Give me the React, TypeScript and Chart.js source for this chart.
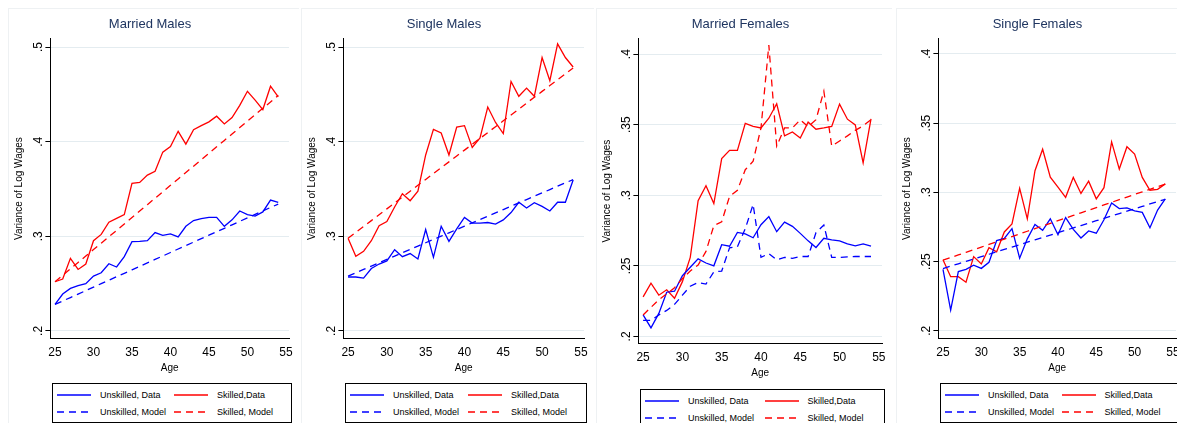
import { useEffect, useRef } from "react"
import { Chart, registerables } from "chart.js"

Chart.register(...registerables)

const ages = [25, 26, 27, 28, 29, 30, 31, 32, 33, 34, 35, 36, 37, 38, 39, 40, 41, 42, 43, 44, 45, 46, 47, 48, 49, 50, 51, 52, 53, 54]
const xTicks = [25, 30, 35, 40, 45, 50, 55]

const mmUnskData = [.228, .239, .245, .248, .250, .258, .2615, .271, .2676, .2785, .2944, .2947, .2954, .304, .301, .3025, .2994, .3106, .3167, .3187, .320, .320, .3106, .3174, .3268, .323, .3214, .3258, .3383, .336]
const mmUnskModel = [.228, .2317, .2353, .239, .2426, .2463, .25, .2536, .2573, .2609, .2646, .2683, .2719, .2756, .2792, .2829, .2866, .2902, .2939, .2975, .3012, .3049, .3085, .3122, .3158, .3195, .3232, .3268, .3305, .334]
const mmSkData = [.252, .2548, .2768, .265, .2707, .2954, .302, .315, .319, .323, .356, .357, .3647, .3688, .389, .395, .411, .3975, .4127, .417, .421, .427, .4188, .4256, .4384, .4533, .444, .434, .4587, .4475]
const mmSkModel = [.252, .2588, .2656, .2724, .2792, .286, .2927, .2995, .3063, .3131, .3199, .3267, .3335, .3403, .3471, .3539, .3606, .3674, .3742, .381, .3878, .3946, .4014, .4082, .415, .4218, .4285, .4353, .4421, .449]

const smUnskData = [.257, .257, .2558, .266, .2707, .274, .2859, .2785, .2818, .276, .3072, .2778, .3106, .2947, .3079, .320, .314, .314, .3146, .313, .3174, .3251, .336, .330, .3356, .3316, .3268, .336, .336, .3596]
const smUnskModel = [.258, .2615, .265, .2686, .2721, .2756, .2791, .2826, .2861, .2897, .2932, .2967, .3002, .3037, .3072, .3108, .3143, .3178, .3213, .3248, .3283, .3319, .3354, .3389, .3424, .3459, .3494, .353, .3565, .36]
const smSkData = [.298, .279, .2842, .2954, .3113, .3157, .331, .345, .3376, .3478, .386, .413, .4093, .386, .4155, .417, .394, .404, .4367, .4204, .4086, .4637, .448, .4566, .448, .489, .4645, .5034, .489, .479]
const smSkModel = [.298, .3042, .3104, .3166, .3228, .329, .3352, .3414, .3477, .3539, .3601, .3663, .3725, .3787, .3849, .3911, .3973, .4035, .4097, .4159, .4221, .4283, .4345, .4408, .447, .4532, .4594, .4656, .4718, .478]

const mfUnskData = [.2152, .206, .2163, .2313, .232, .243, .249, .2549, .252, .250, .265, .2639, .2737, .2727, .2699, .2791, .2849, .2742, .281, .278, .273, .2677, .263, .2695, .2684, .2677, .2656, .2641, .2656, .2639]
const mfUnskModel = [.2114, .2114, .2152, .2184, .2227, .2292, .2356, .2382, .2371, .2457, .2463, .2628, .2635, .2763, .2935, .256, .2587, .2542, .256, .2553, .2566, .2566, .2735, .2789, .256, .256, .2564, .2566, .2566, .2566]
const mfSkData = [.228, .2377, .2292, .233, .227, .2388, .256, .2962, .3068, .2941, .326, .3318, .3318, .3509, .3488, .3477, .3546, .3648, .3421, .3449, .3406, .3518, .3468, .3477, .3488, .3646, .3539, .3498, .323, .3541]
const mfSkModel = [.2152, .2206, .226, .2302, .2345, .241, .2463, .2506, .2602, .2785, .2812, .2992, .3035, .3181, .3241, .3477, .4064, .3348, .3477, .3477, .3535, .3486, .3535, .3738, .3348, .3385, .3421, .346, .3492, .3535]

const sfUnskData = [.2444, .215, .2428, .2444, .2474, .2451, .2495, .2652, .2668, .2738, .2525, .2664, .2768, .2726, .2809, .2694, .2818, .2733, .267, .2721, .2705, .2802, .2923, .2883, .2888, .2867, .2855, .2744, .2872, .2953]
const sfUnskModel = [.245, .2467, .2484, .2502, .2519, .2536, .2553, .2571, .2588, .2605, .2622, .264, .2657, .2674, .2691, .2709, .2726, .2743, .276, .2778, .2795, .2812, .2829, .2847, .2864, .2881, .2898, .2916, .2933, .295]
const sfSkData = [.2513, .2391, .2391, .2351, .2536, .2483, .2601, .2571, .2714, .2772, .3029, .2809, .3156, .3311, .311, .3038, .2964, .3108, .2992, .308, .2953, .3034, .3364, .3168, .3329, .3276, .3108, .3015, .3022, .3061]
const sfSkModel = [.251, .2529, .2548, .2567, .2586, .2605, .2624, .2643, .2662, .2681, .27, .2719, .2738, .2757, .2776, .2795, .2814, .2833, .2852, .2871, .289, .2909, .2928, .2947, .2966, .2985, .3003, .3022, .3041, .306]

const FONT = "'Liberation Sans', Arial, sans-serif"
const BLUE = "#0000ff"
const RED = "#ff0000"
const DASH = [7, 5]

type PanelProps = {
  title: string
  left: number
  width: number
  chartH: number
  legendTop: number
  yMin: number
  yMax: number
  yTicks: number[]
  unskData: number[]
  unskModel: number[]
  skData: number[]
  skModel: number[]
}

function fmt(v: number) {
  return String(v).replace(/^0/, "")
}

// y tick labels read bottom-to-top, like Stata
const rotatedYLabels = {
  id: "rotatedYLabels",
  afterDraw(chart: any) {
    const y = chart.scales.y
    const c = chart.ctx
    c.save()
    c.fillStyle = "#000"
    c.font = `12px ${FONT}`
    c.textAlign = "center"
    c.textBaseline = "bottom"
    for (const t of y.ticks) {
      const py = y.getPixelForValue(t.value)
      c.save()
      c.translate(y.right - 6, py)
      c.rotate(-Math.PI / 2)
      c.fillText(fmt(t.value), 0, 0)
      c.restore()
    }
    c.restore()
  },
}

function Panel(p: PanelProps) {
  const ref = useRef<HTMLCanvasElement>(null)
  const inst = useRef<Chart | null>(null)

  useEffect(() => {
    if (!ref.current) return
    const ctx = ref.current.getContext("2d")
    if (!ctx) return
    if (inst.current) inst.current.destroy()
    const ds = (label: string, data: number[], color: string, dashed: boolean) => ({
      label,
      data: ages.map((a, i) => ({ x: a, y: data[i] })),
      borderColor: color,
      borderWidth: 1.3,
      borderDash: dashed ? DASH : [],
      pointRadius: 0,
      tension: 0,
      fill: false,
    })
    inst.current = new Chart(ctx, {
      type: "line",
      data: {
        datasets: [
          ds("Unskilled, Model", p.unskModel, BLUE, true),
          ds("Skilled, Model", p.skModel, RED, true),
          ds("Unskilled, Data", p.unskData, BLUE, false),
          ds("Skilled,Data", p.skData, RED, false),
        ],
      },
      options: {
        animation: false,
        responsive: false,
        layout: { padding: { top: 4, right: 10, left: 2, bottom: 0 } },
        plugins: {
          legend: { display: false },
          tooltip: { enabled: false },
          title: {
            display: true,
            text: p.title,
            color: "#1f3560",
            font: { family: FONT, size: 13, weight: "normal" },
            padding: { top: 4, bottom: 6 },
          },
        },
        scales: {
          x: {
            type: "linear",
            min: 24.4,
            max: 55.4,
            afterBuildTicks: (axis: any) => {
              axis.ticks = xTicks.map((v) => ({ value: v }))
            },
            grid: { display: false, drawTicks: true, tickLength: 5, tickColor: "#000" },
            border: { color: "#000", width: 1 },
            ticks: { color: "#000", font: { family: FONT, size: 12 }, padding: 2, maxRotation: 0 },
            title: { display: true, text: "Age", color: "#000", font: { family: FONT, size: 10 }, padding: 0 },
          },
          y: {
            min: p.yMin,
            max: p.yMax,
            afterBuildTicks: (axis: any) => {
              axis.ticks = p.yTicks.map((v) => ({ value: v }))
            },
            grid: { color: "#e4ecf0", drawTicks: true, tickLength: 5, tickColor: "#000" },
            border: { color: "#000", width: 1 },
            ticks: {
              color: "rgba(0,0,0,0)",
              font: { family: FONT, size: 12 },
              minRotation: 90,
              maxRotation: 90,
              padding: 2,
              callback: (v: any) => fmt(Number(v)),
            },
            title: { display: true, text: "Variance of Log Wages", color: "#000", font: { family: FONT, size: 10 }, padding: 2 },
          },
        },
      },
      plugins: [rotatedYLabels],
    } as any)
    return () => {
      if (inst.current) inst.current.destroy()
      inst.current = null
    }
  }, [])

  const item = (color: string, dashed: boolean, text: string) => (
    <div style={{ display: "flex", alignItems: "center", height: 17, whiteSpace: "nowrap" }}>
      <svg width={34} height={4} style={{ marginRight: 9, flex: "none" }}>
        <line x1={0} y1={2} x2={34} y2={2} stroke={color} strokeWidth={1.4} strokeDasharray={dashed ? "7 5" : undefined} />
      </svg>
      <span>{text}</span>
    </div>
  )

  return (
    <div style={{ position: "absolute", left: p.left, top: 8, width: p.width, height: 423, background: "#fff", borderTop: "1px solid #eef1f3", borderLeft: "1px solid #eef1f3", overflow: "hidden" }}>
      <canvas ref={ref} width={p.width} height={p.chartH} />
      <div style={{ position: "absolute", left: 43, top: p.legendTop, width: p.width - 50, border: "1px solid #000", padding: "2px 4px", boxSizing: "border-box", display: "grid", gridTemplateColumns: "1fr 1fr", columnGap: 4, fontFamily: FONT, fontSize: 9, color: "#000" }}>
        {item(BLUE, false, "Unskilled, Data")}
        {item(RED, false, "Skilled,Data")}
        {item(BLUE, true, "Unskilled, Model")}
        {item(RED, true, "Skilled, Model")}
      </div>
    </div>
  )
}

export default function App() {
  return (
    <div style={{ position: "relative", width: 1185, height: 431, background: "#fff", margin: -8 }}>
      <Panel title="Married Males" left={8} width={290} chartH={365} legendTop={374} yMin={0.1919} yMax={0.509} yTicks={[0.2, 0.3, 0.4, 0.5]}
        unskData={mmUnskData} unskModel={mmUnskModel} skData={mmSkData} skModel={mmSkModel} />
      <Panel title="Single Males" left={301} width={292} chartH={365} legendTop={374} yMin={0.1919} yMax={0.509} yTicks={[0.2, 0.3, 0.4, 0.5]}
        unskData={smUnskData} unskModel={smUnskModel} skData={smSkData} skModel={smSkModel} />
      <Panel title="Married Females" left={596} width={295} chartH={370} legendTop={380} yMin={0.1949} yMax={0.411} yTicks={[0.2, 0.25, 0.3, 0.35, 0.4]}
        unskData={mfUnskData} unskModel={mfUnskModel} skData={mfSkData} skModel={mfSkModel} />
      <Panel title="Single Females" left={896} width={289} chartH={365} legendTop={374} yMin={0.1944} yMax={0.411} yTicks={[0.2, 0.25, 0.3, 0.35, 0.4]}
        unskData={sfUnskData} unskModel={sfUnskModel} skData={sfSkData} skModel={sfSkModel} />
    </div>
  )
}
